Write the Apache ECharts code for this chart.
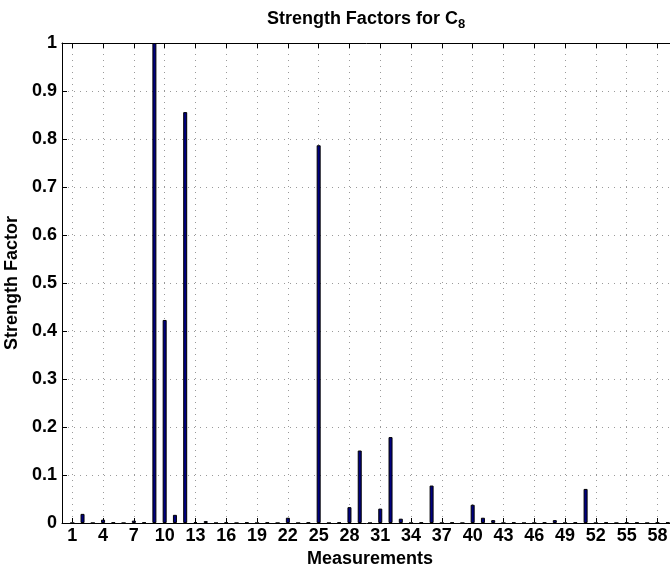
<!DOCTYPE html>
<html>
<head>
<meta charset="utf-8">
<script src="https://cdn.jsdelivr.net/npm/echarts@6/dist/echarts.min.js"></script>
<style>
  html, body { margin: 0; padding: 0; background: #fff; }
  #chart { width: 670px; height: 573px; }
</style>
</head>
<body>
<div id="chart"></div>
<script>
// measurement index 1..59
const measurements = []
for (let i = 1; i <= 59; i++) measurements.push(i)

const strength = [
  0, 0.019, 0, 0.007, 0.001, 0, 0.005, 0.001, 1.0, 0.423,
  0.017, 0.856, 0.002, 0.004, 0, 0.001, 0, 0.001, 0, 0.001,
  0, 0.011, 0, 0.001, 0.787, 0, 0.001, 0.033, 0.151, 0,
  0.03, 0.179, 0.009, 0, 0.001, 0.078, 0, 0.001, 0, 0.038,
  0.011, 0.006, 0, 0.001, 0, 0, 0.001, 0.006, 0, 0.001,
  0.071, 0, 0.001, 0, 0.001, 0.001, 0, 0.001, 0.001
]

const xTicks = [1, 4, 7, 10, 13, 16, 19, 22, 25, 28, 31, 34, 37, 40, 43, 46, 49, 52, 55, 58]

const font = '"Liberation Sans", Arial, Helvetica, sans-serif'
const dotted = { color: '#9a9a9a', width: 1, type: [1, 5] }

const chart = echarts.init(document.getElementById('chart'))

chart.setOption({
  animation: false,
  backgroundColor: '#fff',
  title: {
    text: '{a|Strength Factors for C}{b|8}',
    left: 361,
    top: 2,
    textAlign: 'center',
    textStyle: {
      rich: {
        a: { fontFamily: font, fontWeight: 'bold', fontSize: 18, color: '#000' },
        b: { fontFamily: font, fontWeight: 'bold', fontSize: 13, color: '#000', padding: [11, 0, 0, 0] }
      }
    }
  },
  grid: { left: 62, right: -8, top: 43, bottom: 50, containLabel: false, outerBoundsMode: 'none' },
  xAxis: [
    {
      type: 'value',
      min: 0,
      max: 60,
      name: 'Measurements',
      nameLocation: 'middle',
      nameGap: 25,
      nameTextStyle: { fontFamily: font, fontWeight: 'bold', fontSize: 18, color: '#000' },
      axisLine: { show: true, lineStyle: { color: '#000', width: 1 } },
      axisTick: { show: true, inside: true, length: 5, customValues: xTicks, lineStyle: { color: '#000' } },
      axisLabel: { customValues: xTicks, fontFamily: font, fontWeight: 'bold', fontSize: 18, color: '#000', margin: 4 },
      splitLine: { show: false }
    },
    {
      type: 'value',
      position: 'top',
      min: 0,
      max: 60,
      axisLine: { show: true, onZero: false, lineStyle: { color: '#000', width: 1 } },
      axisTick: { show: true, inside: true, length: 5, customValues: xTicks, lineStyle: { color: '#000' } },
      axisLabel: { show: false },
      splitLine: { show: false }
    }
  ],
  yAxis: {
    type: 'value',
    min: 0,
    max: 1,
    interval: 0.1,
    name: 'Strength Factor',
    nameLocation: 'middle',
    nameGap: 36,
    nameTextStyle: { fontFamily: font, fontWeight: 'bold', fontSize: 18, color: '#000' },
    axisLine: { show: true, lineStyle: { color: '#000', width: 1 } },
    axisTick: { show: true, inside: true, length: 5, lineStyle: { color: '#000' } },
    axisLabel: {
      fontFamily: font, fontWeight: 'bold', fontSize: 18, color: '#000', margin: 5,
      formatter: v => String(Math.round(v * 10) / 10)
    },
    splitLine: { show: true, lineStyle: dotted }
  },
  series: [
    {
      type: 'bar',
      xAxisIndex: 0,
      barWidth: 4,
      z: 3,
      itemStyle: { color: '#000080', borderColor: '#000', borderWidth: 1 },
      data: measurements.map((m, i) => [m, strength[i]]),
      // vertical dotted grid at the tick positions
      markLine: {
        silent: true,
        symbol: 'none',
        z: 1,
        label: { show: false },
        lineStyle: dotted,
        data: xTicks.map(t => ({ xAxis: t }))
      }
    }
  ]
})
</script>
</body>
</html>
